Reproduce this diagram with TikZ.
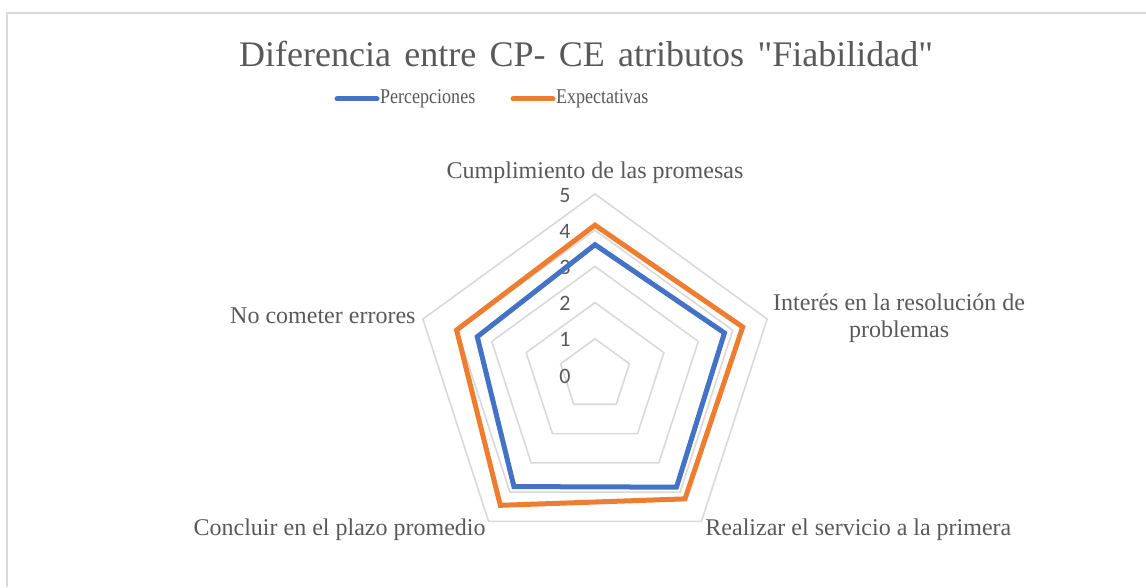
\documentclass[tikz,border=0pt]{standalone}
\usepackage{fontspec}
\setmainfont{Liberation Serif}[Ligatures=TeXOff]
\newfontfamily\tickfont{Carlito}
\usetikzlibrary{calc}

\definecolor{percepblue}{HTML}{4472C4}
\definecolor{expectorange}{HTML}{ED7D31}
\definecolor{gridgray}{HTML}{D9D9D9}
\definecolor{textgray}{HTML}{595959}

\tikzset{
    grid_line/.style={draw=gridgray, line width=1.6pt},
    percep_line/.style={draw=percepblue, line width=5pt},
    expect_line/.style={draw=expectorange, line width=5pt},
    axis_label/.style={text=textgray, inner sep=0pt, font=\fontsize{24}{27}\selectfont},
    legend_text/.style={text=textgray, inner sep=1pt, xscale=0.86, font=\fontsize{21}{23}\selectfont},
    tick_label/.style={text=textgray, inner sep=0pt, font=\tickfont\fontsize{22}{24}\selectfont}
}

\begin{document}
\begin{tikzpicture}[x=1pt, y=1pt]
        \useasboundingbox (0,0) rectangle (1146,587);
        \draw[grid_line] (7,0) -- (7,574) -- (1146,574);

        \node (title) at (586,520) [
            anchor=base,
            text=textgray,
            inner sep=0pt,
            font=\fontsize{36}{40}\selectfont
        ] {\spaceskip=0.37em Diferencia entre CP- CE atributos "Fiabilidad"};

        \draw[percep_line, line cap=round] (337,488) -- (377,488) node[anchor=west, legend_text] (percep_key) {Percepciones};
        \draw[expect_line, line cap=round] (513,488) -- (553,488) node[anchor=west, legend_text] (expect_key) {Expectativas};

        \begin{scope}[shift={(595,212)}, x=36.2pt, y=36.2pt]
            \foreach \lvl in {1,...,5}
                \draw[grid_line] (90:\lvl) -- (18:\lvl) -- (-54:\lvl) -- (-126:\lvl) -- (162:\lvl) -- cycle;
            \foreach \lvl in {0,...,5}
                \node[tick_label] (tick_\lvl) at (-0.83,\lvl-0.03) {\lvl};
            \coordinate (axis_top) at (90:5);
            \coordinate (axis_right) at (18:5);
            \coordinate (axis_lowright) at (-54:5);
            \coordinate (axis_lowleft) at (-126:5);
            \coordinate (axis_left) at (162:5);
            \draw[expect_line] (90:4.14) -- (18:4.29) -- (-54:4.23) -- (-126:4.45) -- (162:4.02) -- cycle;
            \draw[percep_line] (90:3.6) -- (18:3.76) -- (-54:3.83) -- (-126:3.81) -- (162:3.42) -- cycle;
        \end{scope}

        \path (axis_top) + (0,15) node[anchor=base, axis_label] (label_top) {Cumplimiento de las promesas};
        \path (axis_right) + (132,1) node[axis_label, align=center] (label_right) {Interés en la resolución de\\problemas};
        \path (axis_lowright) + (157,-14) node[anchor=base, axis_label] (label_lowright) {Realizar el servicio a la primera};
        \path (axis_lowleft) + (-149,-14) node[anchor=base, axis_label] (label_lowleft) {Concluir en el plazo promedio};
        \path (axis_left) + (-100,-4) node[anchor=base, axis_label] (label_left) {No cometer errores};
    \end{tikzpicture}
\end{document}
